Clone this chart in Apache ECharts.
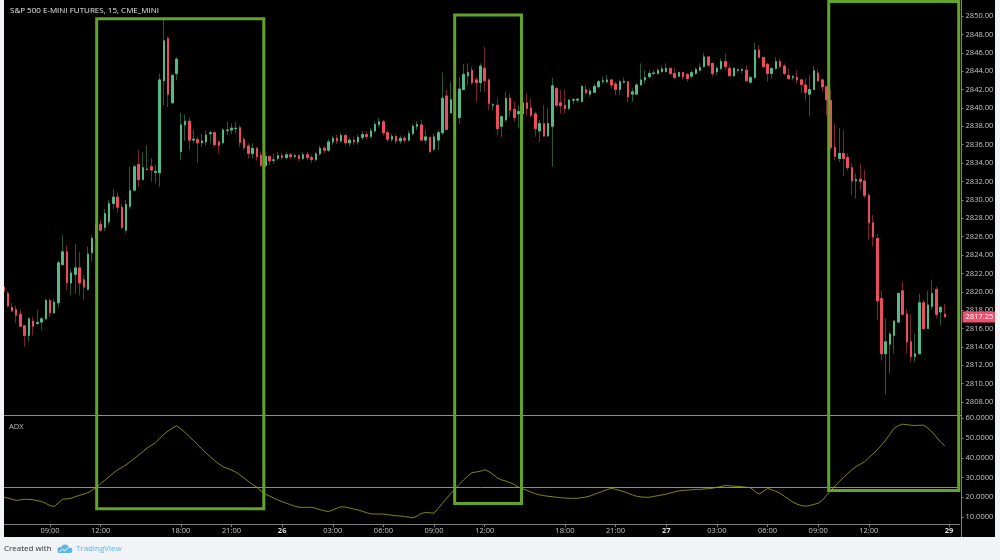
<!DOCTYPE html>
<html><head><meta charset="utf-8">
<script src="https://cdn.jsdelivr.net/npm/echarts/dist/echarts.min.js"></script>
<style>html,body{margin:0;padding:0;background:#000;}#c{width:1000px;height:560px;}</style>
</head><body><div id="c"></div>
<script>
const chartTitle = 'S&P 500 E-MINI FUTURES, 15, CME_MINI';
const indicatorName = 'ADX';
const opens = [
2820.5,2819.8,2818.3,2818.05,2817.55,2816.3,2815.25,2816.8,2816.55,2816.7,
2817.05,2819.05,2817.7,2818.8,2822.95,2824.35,2820.95,2821.9,2822.6,2821.3,
2820.25,2824.25,2825.8,2827.35,2827.0,2827.6,2829.6,2830.3,2829.2,2826.7,
2829.3,2831.05,2833.85,2832.2,2833.3,2833.6,2833.0,2832.95,2842.95,2847.55,
2840.55,2843.75,2835.25,2838.15,2838.55,2836.5,2836.55,2836.2,2836.3,2837.2,
2837.3,2836.3,2836.2,2837.55,2837.6,2837.75,2837.85,2836.55,2835.85,2835.05,
2835.6,2834.85,2833.75,2834.7,2834.3,2834.5,2834.8,2834.6,2834.9,2834.7,
2834.8,2834.5,2834.9,2834.6,2834.4,2835.0,2835.6,2835.4,2836.3,2836.7,
2836.4,2837.0,2836.2,2836.5,2836.3,2836.8,2837.1,2836.9,2837.5,2838.2,
2838.5,2837.3,2836.6,2836.9,2836.4,2836.7,2836.5,2837.2,2838.0,2838.15,
2836.5,2836.8,2835.5,2836.5,2837.3,2841.3,2839.45,2841.05,2838.95,2842.0,
2843.5,2844.1,2843.05,2842.75,2844.3,2843.05,2840.3,2840.3,2838.0,2838.7,
2841.05,2839.85,2839.35,2839.35,2840.55,2840.0,2839.35,2837.5,2838.3,2836.95,
2838.0,2842.1,2840.55,2840.3,2839.95,2840.85,2840.85,2840.7,2842.0,2841.5,
2841.7,2842.3,2842.85,2842.85,2843.05,2842.6,2842.0,2842.8,2842.85,2841.5,
2841.5,2842.5,2843.05,2843.4,2843.75,2843.75,2843.95,2843.95,2844.3,2843.75,
2843.45,2843.85,2843.65,2843.45,2843.75,2844.1,2844.5,2845.55,2844.85,2843.95,
2844.3,2845.05,2844.3,2843.5,2844.1,2844.1,2844.1,2842.8,2843.3,2846.3,
2845.5,2844.75,2843.75,2844.3,2845.05,2844.55,2843.55,2843.3,2843.3,2843.05,
2842.5,2841.5,2842.0,2843.8,2843.05,2842.3,2840.8,2835.7,2834.5,2835.05,
2834.6,2833.5,2832.05,2832.25,2832.05,2830.5,2827.5,2825.8,2819.25,2813.25,
2814.3,2815.25,2816.7,2820.1,2817.55,2814.55,2812.95,2813.25,2818.8,2816.0,
2818.4,2820.25,2817.8,2817.55];
const closes = [
2820.1,2818.45,2817.9,2817.45,2816.25,2815.25,2817.05,2816.25,2816.65,2817.05,
2819.05,2817.7,2818.85,2823.15,2824.35,2821.0,2822.05,2822.6,2820.95,2820.5,
2824.1,2825.8,2827.2,2826.7,2828.5,2829.6,2830.3,2829.2,2827.0,2829.5,
2831.0,2833.6,2832.2,2833.5,2833.35,2833.25,2833.1,2843.05,2847.3,2841.5,
2843.55,2845.3,2838.15,2838.55,2836.5,2836.6,2836.2,2836.4,2837.05,2837.3,
2836.0,2835.95,2837.6,2837.6,2837.8,2837.8,2836.25,2835.7,2835.05,2835.6,
2834.7,2833.75,2834.7,2834.25,2834.35,2834.8,2834.6,2834.9,2834.7,2834.8,
2834.5,2834.9,2834.6,2834.4,2835.0,2835.6,2835.4,2836.3,2836.7,2836.4,
2837.0,2836.2,2836.5,2836.3,2836.8,2837.1,2836.9,2837.5,2838.2,2838.5,
2837.3,2836.6,2836.9,2836.4,2836.7,2836.5,2837.2,2838.0,2838.2,2836.5,
2836.85,2835.25,2836.85,2837.3,2841.05,2837.65,2840.9,2838.75,2842.05,2843.65,
2843.85,2842.75,2842.75,2844.55,2842.95,2840.5,2840.35,2837.75,2839.05,2841.05,
2839.75,2838.95,2839.6,2840.55,2839.95,2839.2,2837.75,2838.3,2836.95,2838.3,
2842.4,2840.3,2840.25,2839.95,2840.85,2840.9,2840.95,2842.35,2841.65,2841.85,
2842.35,2842.85,2842.95,2843.05,2842.5,2842.0,2842.85,2842.9,2841.2,2841.75,
2842.5,2843.05,2843.3,2843.75,2843.8,2844.1,2844.25,2844.3,2843.75,2843.3,
2843.85,2843.4,2843.2,2843.85,2844.2,2844.4,2845.55,2844.65,2843.75,2844.3,
2845.05,2844.5,2843.5,2844.3,2844.15,2844.2,2842.95,2843.3,2846.3,2845.5,
2844.5,2843.75,2844.3,2845.05,2844.5,2843.75,2843.2,2843.4,2843.05,2842.55,
2841.7,2842.0,2844.05,2842.95,2842.3,2840.9,2835.7,2834.75,2835.05,2834.5,
2833.5,2832.05,2832.2,2832.0,2830.5,2827.5,2825.95,2819.0,2813.25,2814.55,
2815.4,2816.8,2819.8,2817.55,2814.55,2812.95,2813.25,2818.8,2816.0,2818.55,
2819.8,2817.55,2818.3,2817.25];
const lows = [
2819.9,2818.3,2817.8,2816.6,2816.2,2814.05,2814.55,2815.25,2816.35,2815.8,
2817.0,2817.25,2817.6,2818.3,2822.9,2820.15,2819.6,2819.8,2819.6,2819.05,
2820.15,2823.25,2825.5,2826.5,2826.6,2827.3,2829.0,2828.6,2826.8,2826.4,
2829.0,2830.9,2831.4,2832.15,2833.2,2831.95,2831.8,2831.4,2840.3,2840.1,
2840.5,2843.0,2834.3,2836.4,2835.4,2836.15,2834.0,2835.75,2835.95,2836.15,
2835.8,2835.05,2836.1,2837.05,2837.15,2837.2,2835.75,2835.4,2834.5,2834.5,
2834.3,2833.6,2833.55,2833.77,2833.95,2834.3,2834.3,2834.4,2834.4,2834.5,
2834.2,2834.3,2834.3,2834.0,2834.2,2834.8,2835.1,2835.2,2836.0,2836.1,
2836.2,2835.9,2835.8,2836.0,2836.0,2836.5,2836.6,2836.7,2837.3,2837.9,
2837.0,2836.3,2836.3,2836.1,2836.1,2836.2,2836.3,2837.0,2837.6,2836.5,
2836.15,2835.1,2835.35,2835.4,2837.05,2837.65,2839.4,2838.4,2838.3,2841.95,
2842.5,2842.5,2840.65,2841.75,2841.75,2839.75,2839.75,2837.05,2836.85,2838.5,
2839.05,2838.5,2837.75,2839.2,2839.2,2838.95,2836.85,2836.3,2836.85,2836.85,
2833.6,2840.1,2839.4,2839.4,2839.75,2840.4,2840.6,2840.6,2841.45,2841.2,
2841.6,2842.1,2842.65,2842.65,2842.1,2841.4,2841.4,2842.65,2840.65,2840.65,
2841.4,2842.4,2842.65,2843.2,2843.6,2843.6,2843.85,2843.85,2843.55,2843.2,
2843.4,2843.1,2842.85,2843.2,2843.6,2843.95,2844.4,2844.5,2843.4,2843.55,
2844.1,2844.1,2843.4,2843.4,2843.85,2843.75,2842.85,2842.65,2843.2,2845.4,
2844.3,2842.85,2843.2,2844.1,2844.3,2843.55,2843.05,2843.0,2842.65,2841.6,
2840.8,2839.1,2841.95,2842.85,2841.75,2839.2,2835.4,2834.3,2834.15,2832.6,
2833.2,2830.5,2830.15,2831.05,2830.15,2825.6,2824.9,2816.9,2812.5,2808.8,
2811.1,2813.25,2816.55,2817.45,2813.25,2812.35,2812.35,2813.25,2815.8,2816.0,
2818.05,2817.1,2816.35,2817.25];
const highs = [
2820.8,2820.1,2818.8,2818.5,2818.05,2816.4,2817.25,2817.25,2818.05,2817.25,
2819.25,2819.25,2819.25,2823.4,2826.15,2825.05,2822.5,2825.2,2824.35,2821.8,
2824.9,2826.15,2827.6,2827.8,2829.0,2830.0,2831.2,2830.8,2829.6,2830.0,
2833.6,2833.8,2835.4,2835.2,2835.95,2834.5,2833.8,2843.75,2849.55,2847.75,
2843.6,2845.55,2839.45,2839.3,2839.0,2837.6,2836.85,2837.2,2837.5,2837.5,
2837.5,2836.5,2837.8,2838.5,2838.3,2838.5,2838.1,2836.85,2836.15,2836.15,
2835.77,2835.2,2835.1,2834.85,2835.05,2835.2,2835.1,2835.2,2835.1,2835.0,
2835.0,2835.2,2835.2,2834.9,2835.2,2835.9,2835.9,2836.6,2837.0,2837.1,
2837.3,2837.2,2836.8,2836.9,2837.1,2837.5,2837.4,2837.8,2838.5,2838.9,
2838.7,2837.6,2837.2,2837.1,2837.0,2837.0,2837.5,2838.3,2838.6,2838.75,
2837.6,2836.85,2837.2,2837.6,2843.85,2842.0,2842.85,2841.5,2843.4,2844.8,
2844.85,2844.5,2843.4,2844.85,2846.65,2843.2,2840.5,2841.05,2839.2,2841.75,
2841.55,2840.7,2840.3,2840.8,2841.6,2841.0,2839.6,2838.7,2840.3,2839.95,
2843.3,2842.3,2841.95,2842.0,2840.95,2841.05,2841.1,2842.5,2842.5,2842.1,
2842.65,2843.05,2843.4,2843.55,2843.1,2842.85,2843.05,2843.3,2842.85,2842.1,
2842.7,2844.85,2844.1,2844.1,2844.1,2844.3,2844.65,2844.85,2844.4,2844.3,
2843.95,2843.95,2843.8,2844.1,2844.4,2844.85,2846.0,2845.65,2844.85,2844.55,
2845.4,2845.95,2844.65,2844.5,2844.3,2844.3,2844.65,2843.45,2847.1,2846.85,
2845.55,2844.9,2844.4,2845.5,2845.4,2844.85,2844.3,2843.6,2844.1,2843.2,
2843.2,2843.55,2844.55,2844.3,2843.2,2842.4,2842.0,2838.3,2837.8,2837.6,
2835.05,2833.95,2832.85,2833.95,2833.3,2830.7,2828.35,2826.3,2820.1,2817.05,
2815.65,2816.95,2819.95,2821.05,2818.15,2817.55,2815.45,2819.8,2819.15,2820.1,
2821.3,2820.55,2818.5,2818.7];
const adxValues = [
20.0,19.6,19.0,18.4,18.7,19.0,18.9,18.7,18.3,17.8,
16.9,15.8,15.3,17.2,19.0,19.2,19.5,20.3,21.0,21.6,
22.4,23.6,25.1,26.9,28.6,30.4,32.2,33.9,35.1,36.4,
38.0,39.7,41.4,43.1,45.0,46.3,47.6,49.8,52.0,53.6,
55.0,56.2,54.6,52.8,50.7,48.7,46.6,44.4,42.3,40.5,
38.6,36.9,35.5,34.6,33.8,32.8,31.3,29.7,28.0,26.5,
25.1,23.2,21.6,20.6,19.6,18.6,17.8,17.0,16.2,15.5,
14.9,14.9,14.9,14.9,14.4,13.7,13.2,12.7,13.6,14.5,
15.2,15.0,14.5,14.0,13.6,12.9,12.2,11.6,11.5,11.5,
11.5,11.2,10.9,10.6,10.5,10.2,9.9,9.6,10.5,11.8,
12.3,12.1,11.9,14.5,17.0,19.5,22.0,24.3,26.6,28.8,
30.8,32.5,32.8,33.2,34.0,33.0,31.5,29.8,28.8,28.2,
27.4,26.5,25.1,24.3,23.5,22.6,21.8,21.2,20.8,20.5,
20.3,20.0,19.8,19.6,19.5,19.4,19.5,19.8,20.1,20.7,
21.5,22.3,23.1,23.9,24.5,24.0,23.4,22.8,22.0,21.2,
20.5,20.2,20.0,20.0,20.4,20.8,21.2,21.6,22.2,22.8,
23.2,23.5,23.6,23.8,24.0,24.0,24.2,24.4,24.6,25.0,
25.5,26.0,25.8,25.6,25.5,25.3,25.1,24.8,23.0,21.6,
23.0,24.5,23.8,23.0,22.0,20.5,19.0,17.6,16.5,15.8,
15.5,15.8,16.4,17.0,18.5,21.0,23.5,25.8,28.0,30.0,
32.0,34.0,35.5,36.8,38.0,40.0,42.0,44.0,46.5,49.0,
52.0,55.0,56.3,57.0,56.8,56.5,56.3,56.5,56.5,55.0,
53.0,50.5,48.0,46.0];
const slotCount = 227;
const timeTicks = [[11,'09:00'],[23,'12:00'],[42,'18:00'],[54,'21:00'],[66,'26'],[78,'03:00'],[90,'06:00'],[102,'09:00'],[114,'12:00'],[133,'18:00'],[145,'21:00'],[157,'27'],[169,'03:00'],[181,'06:00'],[193,'09:00'],[205,'12:00'],[224,'29']];
const priceAxis = [2806, 2852, 2];
const adxAxis = [0, 70, 10];
const lastPrice = 2817.25;
const adxLevel = 25;
const boxes = [
  [22.06, 61.66, 2849.71, 14.16],
  [106.88, 122.71, 2850.1, 16.85],
  [195.5, 226.3, 2851.58, 23.45]
];

const FONT = '"Open Sans", "Noto Sans", sans-serif';
const UP = '#53b987', DOWN = '#eb4d5c', UPW = '#24583f', DOWNW = '#7a2331';
const categories = [];
for (let i = 0; i < slotCount; i++) categories.push(String(i));
const tickMap = {};
timeTicks.forEach(([i, t]) => { tickMap[i] = t; });
const wickData = opens.map((o, i) => [o, closes[i], lows[i], highs[i]]);
const bodyData = opens.map((o, i) => [o, closes[i], Math.min(o, closes[i]), Math.max(o, closes[i])]);

const gridBase = { left: 1.46, width: 958.1, containLabel: false, outerBoundsMode: 'none' };
const chart = echarts.init(document.getElementById('c'), null, { renderer: 'canvas' });
const hiddenX = (gi) => ({ type: 'category', gridIndex: gi, data: categories, show: false, boundaryGap: true });
const axisGray = '#7f7f7f', labelGray = '#c6c6c6';

chart.setOption({
  animation: false,
  backgroundColor: '#000',
  grid: [
    Object.assign({ top: -2.37, height: 422.8 }, gridBase),
    Object.assign({ top: 398.56, height: 138.18 }, gridBase),
    Object.assign({ top: 416, height: 108 }, gridBase)
  ],
  xAxis: [hiddenX(0), hiddenX(1), {
    type: 'category', gridIndex: 2, data: categories, boundaryGap: true,
    axisLine: { show: true, lineStyle: { color: axisGray, width: 1 } },
    axisTick: { show: true, alignWithLabel: true, length: 3, interval: (i) => (i in tickMap), lineStyle: { color: axisGray } },
    axisLabel: {
      interval: (i) => (i in tickMap), margin: 3, color: labelGray, fontSize: 7.5, fontFamily: FONT,
      formatter: (v, i) => { const t = tickMap[i]; if (!t) return ''; return t.length <= 2 ? '{d|' + t + '}' : t; },
      rich: { d: { fontWeight: 'bold', color: '#dcdcdc', fontSize: 7.5, fontFamily: FONT } }
    },
    splitLine: { show: false }
  }],
  yAxis: [{
    type: 'value', gridIndex: 0, position: 'right', offset: 2,
    min: priceAxis[0], max: priceAxis[1], interval: priceAxis[2],
    axisLine: { show: true, onZero: false, lineStyle: { color: axisGray } },
    axisTick: { show: true, length: 2, lineStyle: { color: axisGray } },
    axisLabel: { color: labelGray, fontSize: 7.5, fontFamily: FONT, margin: 4, showMinLabel: false, showMaxLabel: false, formatter: (v) => v.toFixed(2) },
    splitLine: { show: false }
  }, {
    type: 'value', gridIndex: 1, position: 'right', offset: 2,
    min: adxAxis[0], max: adxAxis[1], interval: adxAxis[2],
    axisLine: { show: true, onZero: false, lineStyle: { color: axisGray } },
    axisTick: { show: true, length: 2, lineStyle: { color: axisGray } },
    axisLabel: { color: labelGray, fontSize: 7.5, fontFamily: FONT, margin: 4, showMinLabel: false, showMaxLabel: false, formatter: (v) => v.toFixed(4) },
    splitLine: { show: false }
  }, { type: 'value', gridIndex: 2, show: false, splitLine: { show: false } }],
  series: [{
    type: 'candlestick', name: 'wick', xAxisIndex: 0, yAxisIndex: 0, data: wickData, barWidth: 2, z: 2,
    itemStyle: { color: UPW, color0: DOWNW, borderColor: UPW, borderColor0: DOWNW, borderWidth: 1 },
    silent: true
  }, {
    type: 'candlestick', name: 'body', xAxisIndex: 0, yAxisIndex: 0, data: bodyData, barWidth: 2, z: 3,
    itemStyle: { color: UP, color0: DOWN, borderColor: UP, borderColor0: DOWN, borderWidth: 1 },
    silent: true,
    markLine: {
      silent: true, symbol: 'none', animation: false,
      data: [{ yAxis: lastPrice }],
      lineStyle: { color: 'rgba(0,0,0,0)', width: 0 },
      label: { show: true, position: 'end', distance: 3, formatter: lastPrice.toFixed(2), color: '#ffffff', backgroundColor: '#f0506e', padding: [2, 3, 1, 3], fontSize: 7.5, fontFamily: FONT }
    }
  }, {
    type: 'line', name: indicatorName, xAxisIndex: 1, yAxisIndex: 1, data: adxValues, showSymbol: false, symbol: 'none',
    lineStyle: { color: '#86860f', width: 1 }, z: 4, silent: true,
    markLine: {
      silent: true, symbol: 'none', animation: false,
      data: [{ yAxis: adxLevel }],
      lineStyle: { color: '#8c8c8c', type: 'solid', width: 1 },
      label: { show: false }
    }
  }]
});

function xPix(k) {
  const k0 = Math.floor(k);
  const p0 = chart.convertToPixel({ xAxisIndex: 0 }, k0);
  const p1 = chart.convertToPixel({ xAxisIndex: 0 }, k0 + 1);
  return p0 + (k - k0) * (p1 - p0);
}
const LOGO = '#5db4e5';
const graphics = [
  { type: 'rect', shape: { x: 0, y: 0, width: 4, height: 560 }, style: { fill: '#f1f3f6' }, z: 100 },
  { type: 'rect', shape: { x: 995, y: 0, width: 5, height: 560 }, style: { fill: '#f1f3f6' }, z: 100 },
  { type: 'rect', shape: { x: 0, y: 537, width: 1000, height: 23 }, style: { fill: '#f1f3f6' }, z: 100 },
  { type: 'line', shape: { x1: 4, y1: 415.5, x2: 962, y2: 415.5 }, style: { stroke: '#8c8c8c', lineWidth: 1 }, z: 5 },
  { type: 'text', x: 10, y: 10.5, style: { text: chartTitle, fill: '#e6e6e6', font: '8px ' + FONT, verticalAlign: 'middle' }, z: 60 },
  { type: 'text', x: 9, y: 427, style: { text: indicatorName, fill: '#bdbdbd', font: '7.5px ' + FONT, verticalAlign: 'middle' }, z: 60 },
  { type: 'text', x: 4, y: 548.5, style: { text: 'Created with', fill: '#2e2e2e', font: '8px ' + FONT, verticalAlign: 'middle' }, z: 110 },
  { type: 'circle', shape: { cx: 60.5, cy: 550, r: 3 }, style: { fill: LOGO }, z: 110 },
  { type: 'circle', shape: { cx: 65, cy: 548, r: 3.6 }, style: { fill: LOGO }, z: 110 },
  { type: 'circle', shape: { cx: 69.5, cy: 550.2, r: 2.8 }, style: { fill: LOGO }, z: 110 },
  { type: 'rect', shape: { x: 58, y: 550, width: 13, height: 3 }, style: { fill: LOGO }, z: 110 },
  { type: 'polyline', shape: { points: [[59.5, 551.8], [62.5, 549], [64.5, 551], [68.5, 547.5]] }, style: { stroke: '#ffffff', lineWidth: 1, fill: null }, z: 111 },
  { type: 'text', x: 76, y: 548.5, style: { text: 'TradingView', fill: LOGO, font: '8px ' + FONT, verticalAlign: 'middle' }, z: 110 }
];
boxes.forEach(([a, b, top, bottom]) => {
  const x1 = xPix(a), x2 = xPix(b);
  const y1 = chart.convertToPixel({ yAxisIndex: 0 }, top);
  const y2 = chart.convertToPixel({ yAxisIndex: 1 }, bottom);
  graphics.push({ type: 'rect', shape: { x: x1, y: y1, width: x2 - x1, height: y2 - y1 }, style: { fill: null, stroke: '#62a32a', lineWidth: 3 }, z: 50 });
});
chart.setOption({ graphic: graphics });
</script></body></html>
